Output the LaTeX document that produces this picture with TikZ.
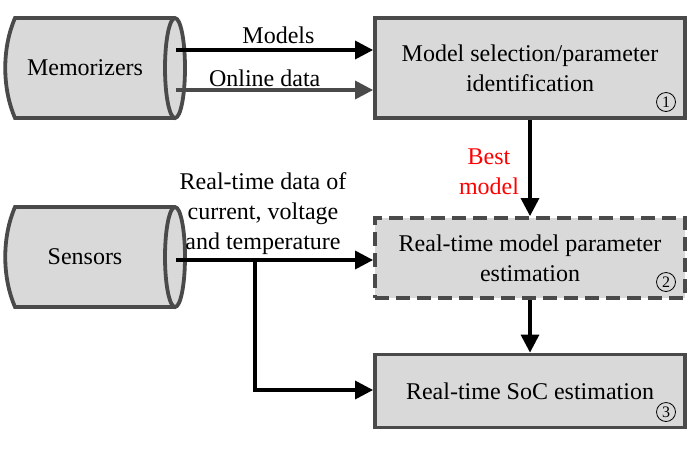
\documentclass[tikz,border=0pt]{standalone}
\usepackage{fontspec}
\setmainfont{Liberation Serif}
\usetikzlibrary{arrows.meta}
\definecolor{bfill}{HTML}{D9D9D9}
\definecolor{bdraw}{HTML}{4A4A4A}
\begin{document}
\begin{tikzpicture}[x=1pt,y=-1pt,font=\fontsize{24}{30}\selectfont,
  box/.style={draw=bdraw,fill=bfill,line width=3.8pt,minimum width=310pt,align=center,inner sep=0pt},
  arr/.style={line width=3.3pt,-{Triangle[length=18pt,width=18pt]}},
  num/.style={circle,draw=black,line width=0.8pt,inner sep=0pt,minimum size=19pt,font=\fontsize{16}{16}\selectfont}]
\useasboundingbox (0,0) rectangle (693,448);
% Memorizers cylinder
\fill[bfill] (15,18) -- (175,18) -- (175,118) -- (15,118) .. controls (2,88) and (2,48) .. (15,18) -- cycle;
\fill[bfill] (175,68) ellipse[x radius=10,y radius=50];
\draw[bdraw,line width=3.8pt] (175,18) -- (15,18) .. controls (2,48) and (2,88) .. (15,118) -- (175,118);
\draw[bdraw,line width=3.8pt] (175,68) ellipse[x radius=10,y radius=50];
\node (mem) at (85,68) {Memorizers};
% Sensors cylinder
\fill[bfill] (15,207) -- (175,207) -- (175,307) -- (15,307) .. controls (2,277) and (2,237) .. (15,207) -- cycle;
\fill[bfill] (175,257) ellipse[x radius=10,y radius=50];
\draw[bdraw,line width=3.8pt] (175,207) -- (15,207) .. controls (2,237) and (2,277) .. (15,307) -- (175,307);
\draw[bdraw,line width=3.8pt] (175,257) ellipse[x radius=10,y radius=50];
\node (sen) at (85,257) {Sensors};
\node[box,minimum height=100pt] (b1) at (530,68) {Model selection/parameter\\identification};
\node[num] (n1) at (666,102) {1};
\node[box,dashed,dash pattern=on 14pt off 7pt,minimum height=80pt] (b2) at (530,258) {Real-time model parameter\\estimation};
\node[num] (n2) at (666,282) {2};
\node[box,minimum height=73pt] (b3) at (530,391) {Real-time SoC estimation};
\node[num] (n3) at (666,412) {3};
\coordinate (m1) at (176,50);
\coordinate (m2) at (176,90);
\coordinate (s1) at (176,260);
\coordinate (j) at (255,260);
\coordinate (jd) at (255,390);
\draw[arr] (m1) -- (b1.west |- m1) node[pos=0.52,above,yshift=1pt] {Models};
\draw[arr,draw=bdraw,color=bdraw] (m2) -- (b1.west |- m2) node[pos=0.45,above,yshift=-2pt,text=black] {Online data};
\draw[arr] (b1.south) -- (b2.north) node[midway,left,text=red,align=center,xshift=-6pt,yshift=-4pt] {Best\\model};
\draw[arr] (s1) -- (b2.west |- s1);
\node[align=center] (lbl) at (263,214) {Real-time data of\\current, voltage\\and temperature};
\draw[arr] (j) -- (jd) -- (b3.west |- jd);
\draw[arr] (b2.south) -- (b3.north);
\end{tikzpicture}
\end{document}
